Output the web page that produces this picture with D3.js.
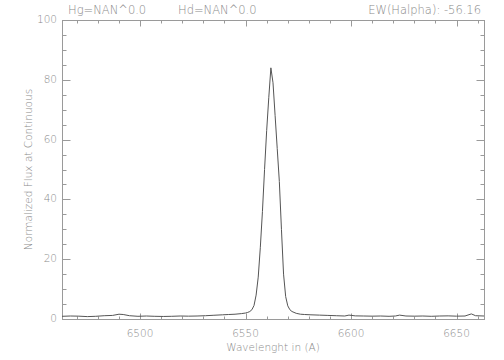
<!DOCTYPE html>
<html>
<head>
<meta charset="utf-8">
<script src="https://cdn.jsdelivr.net/npm/d3@7/dist/d3.min.js"></script>
<style>
  body { margin: 0; background: #fff; }
  text { font-family: "DejaVu Sans", sans-serif; font-weight: 200; fill: #8a8a8a; }
  .frame line, .frame path { stroke: #9a9a9a; }
</style>
</head>
<body>
<div id="chart"></div>
<script>
// spectrum around H-alpha
var wave = [6463, 6467, 6471, 6475, 6479, 6483, 6487, 6490, 6492, 6495, 6499, 6503, 6507, 6511,
  6515, 6519, 6523, 6527, 6531, 6535, 6539, 6542, 6545, 6548, 6550, 6551, 6552, 6553, 6554,
  6555, 6556, 6557, 6558, 6559, 6560, 6561, 6562, 6563, 6564, 6565, 6566, 6567, 6568, 6569,
  6570, 6571, 6572, 6574, 6576, 6578, 6581, 6585, 6589, 6593, 6597, 6599, 6602, 6606, 6610,
  6614, 6618, 6621, 6623, 6626, 6630, 6634, 6638, 6642, 6646, 6650, 6654, 6657, 6659, 6663];
var flux = [0.9, 1.0, 0.95, 0.8, 0.9, 1.1, 1.2, 1.6, 1.5, 1.1, 0.9, 1.0, 0.9, 0.85,
  0.9, 1.0, 0.95, 1.0, 1.1, 1.25, 1.4, 1.5, 1.6, 1.8, 2.0, 2.2, 2.5, 3.1, 4.5,
  8, 14, 24, 36, 50, 63, 74, 84, 79, 68, 57, 46, 30, 15, 7.5,
  4.4, 3.1, 2.5, 1.9, 1.6, 1.5, 1.4, 1.3, 1.2, 1.1, 1.0, 1.3, 1.05, 1.0, 0.95,
  1.0, 0.9, 1.0, 1.3, 1.0, 0.95, 1.0, 0.9, 1.0, 1.05, 0.95, 1.0, 1.7, 1.1, 1.0];

var xTicks = [6500, 6550, 6600, 6650];
var yTicks = [0, 20, 40, 60, 80, 100];
var titles = ["Hg=NAN^0.0", "Hd=NAN^0.0", "EW(Halpha): -56.16"];

var W = 504, H = 360;
var pLeft = 62, pRight = 484, pTop = 20, pBottom = 319;

var svg = d3.select("#chart").append("svg")
  .attr("width", W).attr("height", H);

var x = d3.scaleLinear().domain([6463, 6663]).range([pLeft, pRight]);
var y = d3.scaleLinear().domain([0, 100]).range([pBottom, pTop]);

var frame = svg.append("g").attr("class", "frame");
frame.append("rect")
  .attr("x", pLeft + 0.5).attr("y", pTop + 0.5)
  .attr("width", pRight - pLeft).attr("height", pBottom - pTop)
  .attr("fill", "none").attr("stroke", "#9a9a9a");

var xMinor = d3.range(6470, 6663, 10);
var yMinor = d3.range(0, 101, 5);

// ticks on all four sides, pointing inward
function vTicks(vals, len, y0, dir) {
  frame.selectAll(null).data(vals).enter().append("line")
    .attr("x1", function(d) { return Math.round(x(d)) + 0.5; })
    .attr("x2", function(d) { return Math.round(x(d)) + 0.5; })
    .attr("y1", y0 + 0.5).attr("y2", y0 + 0.5 + dir * len);
}
function hTicks(vals, len, x0, dir) {
  frame.selectAll(null).data(vals).enter().append("line")
    .attr("y1", function(d) { return Math.round(y(d)) + 0.5; })
    .attr("y2", function(d) { return Math.round(y(d)) + 0.5; })
    .attr("x1", x0 + 0.5).attr("x2", x0 + 0.5 + dir * len);
}
vTicks(xMinor, 3, pBottom, -1);
vTicks(xTicks, 6, pBottom, -1);
vTicks(xMinor, 3, pTop, 1);
vTicks(xTicks, 6, pTop, 1);
hTicks(yMinor, 4, pLeft, 1);
hTicks(yTicks, 8, pLeft, 1);
hTicks(yMinor, 4, pRight, -1);
hTicks(yTicks, 8, pRight, -1);

svg.selectAll(".xl").data(xTicks).enter().append("text")
  .attr("x", function(d) { return x(d); })
  .attr("y", 337)
  .attr("text-anchor", "middle")
  .style("font-size", "10.5px")
  .text(function(d) { return d; });

svg.selectAll(".yl").data(yTicks).enter().append("text")
  .attr("x", pLeft - 5)
  .attr("y", function(d) { return y(d) + 3; })
  .attr("text-anchor", "end")
  .style("font-size", "10.5px")
  .text(function(d) { return d; });

svg.append("text")
  .attr("x", (pLeft + pRight) / 2).attr("y", 351)
  .attr("text-anchor", "middle")
  .style("font-size", "10.5px")
  .text("Wavelenght in (A)");

svg.append("text")
  .attr("transform", "translate(32," + ((pTop + pBottom) / 2) + ") rotate(-90)")
  .attr("text-anchor", "middle")
  .style("font-size", "10.5px")
  .text("Normalized Flux at Continuous");

var titleX = [68, 178, 481];
svg.selectAll(".tt").data(titles).enter().append("text")
  .attr("x", function(d, i) { return titleX[i]; })
  .attr("y", 14)
  .attr("text-anchor", function(d, i) { return i == 2 ? "end" : "start"; })
  .style("font-size", "11.5px")
  .text(function(d) { return d; });

var line = d3.line()
  .x(function(d, i) { return x(wave[i]); })
  .y(function(d) { return y(d); });

svg.append("path")
  .datum(flux)
  .attr("d", line)
  .attr("fill", "none")
  .attr("stroke", "#555")
  .attr("stroke-width", 1);
</script>
</body>
</html>
